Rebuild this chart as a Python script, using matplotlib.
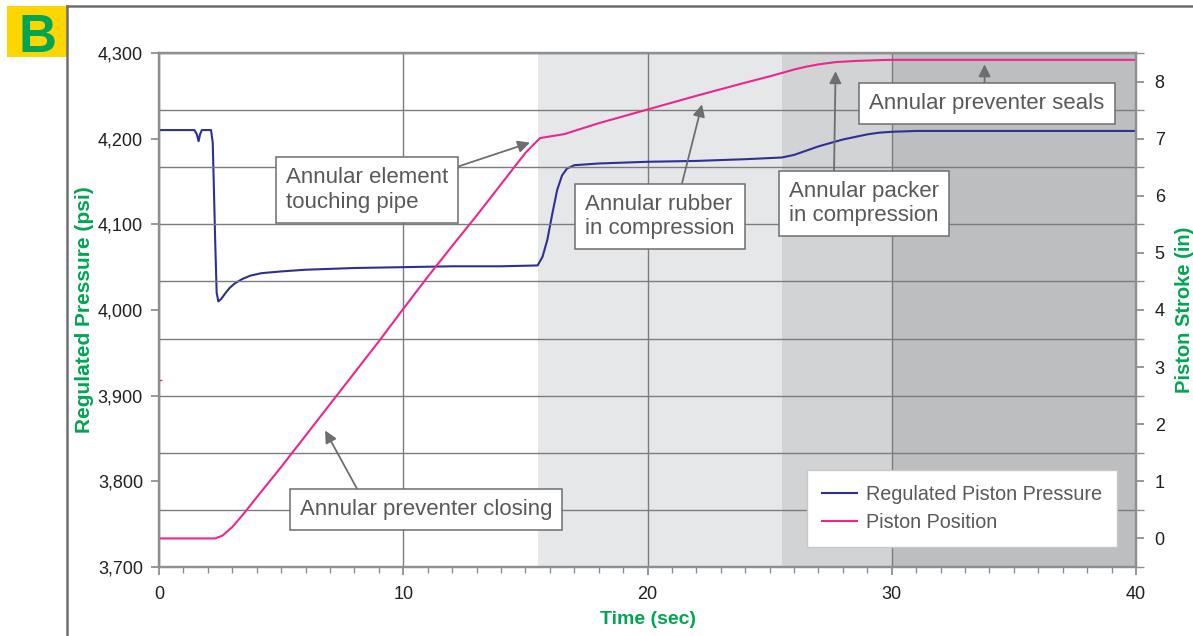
import matplotlib
matplotlib.use("Agg")
import matplotlib.pyplot as plt
from matplotlib.lines import Line2D
from matplotlib.patches import Rectangle
import numpy as np

plt.rcParams['font.family'] = ['Liberation Sans', 'DejaVu Sans']

# ---- data -----------------------------------------------------------------
# regulated piston pressure (psi) vs time (sec)
time_p = [0.0, 1.45, 1.55, 1.62, 1.68, 1.75, 2.13, 2.2, 2.3, 2.36, 2.43, 2.55,
          2.7, 2.9, 3.1, 3.4, 3.73, 4.2, 5.0, 6.0, 8.0, 10.0, 12.0, 14.0, 15.5,
          15.7, 15.9, 16.1, 16.3, 16.5, 16.7, 17.0, 18.0, 20.0, 22.0, 24.0, 25.5,
          26.0, 26.5, 27.0, 27.5, 28.0, 28.5, 29.0, 29.5, 30.0, 31.0, 33.0, 40.0]
pressure = [4210, 4210, 4205, 4197, 4205, 4210, 4210, 4195, 4080, 4020, 4010, 4013,
            4019, 4026, 4031, 4036, 4040, 4043, 4045, 4047, 4049, 4050, 4051, 4051,
            4052, 4062, 4082, 4112, 4140, 4157, 4165, 4169, 4171, 4173, 4174, 4176,
            4178, 4181, 4186, 4191, 4195, 4199, 4202, 4205, 4207, 4208, 4209, 4209,
            4209]

# piston position / stroke (in) vs time (sec)
time_s = [0.0, 2.3, 2.6, 3.0, 3.5, 4.0, 5.0, 6.0, 7.0, 8.0, 9.0, 10.0, 11.0,
          12.0, 13.0, 14.0, 15.0, 15.6, 16.6, 18.0, 20.0, 22.0, 24.0, 25.0,
          25.5, 26.0, 26.5, 27.0, 27.7, 28.5, 29.5, 30.0, 40.0]
stroke = [0.0, 0.0, 0.05, 0.2, 0.45, 0.72, 1.25, 1.8, 2.35, 2.9, 3.45, 4.02, 4.58,
          5.12, 5.65, 6.2, 6.75, 7.01, 7.08, 7.27, 7.51, 7.75, 7.98, 8.09,
          8.15, 8.21, 8.26, 8.3, 8.34, 8.36, 8.375, 8.38, 8.38]

# stray sample at t=0
glitch_t = [0.0]
glitch_s = [2.77]

# closing phases (sec) and their shading
phase_edges = [15.5, 25.5, 30.0, 40.0]
phase_colors = ['#e6e7e8', '#d1d3d4', '#bcbec0']

p_ticks = [3700, 3800, 3900, 4000, 4100, 4200, 4300]
s_ticks = [0, 1, 2, 3, 4, 5, 6, 7, 8]
t_ticks = [0, 10, 20, 30, 40]

# ---- figure ---------------------------------------------------------------
fig = plt.figure(figsize=(11.93, 6.36), dpi=100)
ax = fig.add_axes([0.1333, 0.1085, 0.8189, 0.8082])
ax2 = ax.twinx()

axis_grey = '#8d9093'
grid_grey = '#7a7c7f'
text_grey = '#58595b'
green = '#00a651'

for i in range(len(phase_colors)):
    ax.axvspan(phase_edges[i], phase_edges[i + 1], color=phase_colors[i],
               lw=0, zorder=0)

ax.set_xlim(0, 40)
ax.set_ylim(3700, 4300)
ax2.set_ylim(-0.5, 8.5)

# grid every half inch of stroke (lines up with the psi ticks)
ax2.set_yticks(np.arange(-0.5, 8.51, 0.5), minor=True)
ax2.grid(True, which='minor', axis='y', color=grid_grey, lw=1.0, zorder=0.5)
ax.set_axisbelow(True)
ax.grid(True, which='major', axis='x', color=grid_grey, lw=1.0)

ax.plot(time_p, pressure, color='#2e3192', lw=1.5,
        label='Regulated Piston Pressure', zorder=2)
ax2.plot(time_s, stroke, color='#ec268f', lw=1.5, label='Piston Position',
         zorder=2)
ax2.plot(glitch_t, glitch_s, color='#ec268f', marker='_', ms=4, lw=0)

ax.set_xticks(t_ticks)
ax.set_xticks(np.arange(0, 41, 1), minor=True)
ax.set_yticks(p_ticks)
ax.set_yticklabels([f'{v:,}' for v in p_ticks])
ax2.set_yticks(s_ticks)

ax.tick_params(axis='both', which='major', labelsize=13, color=axis_grey,
               length=5.5, width=1.3, labelcolor='#231f20', pad=6)
ax.tick_params(axis='x', which='major', pad=8)
ax.tick_params(axis='x', which='minor', length=4, width=1.0, color=axis_grey)
ax2.tick_params(axis='y', which='major', labelsize=13, color=axis_grey,
                length=5.5, width=1.3, labelcolor='#231f20', pad=8)
ax2.tick_params(axis='y', which='minor', length=5.5, width=1.0,
                color=axis_grey)

for a in (ax, ax2):
    for s in a.spines.values():
        s.set_color(axis_grey)
        s.set_linewidth(1.6)

ax.set_xlabel('Time (sec)', fontsize=14, fontweight='bold', color=green,
              labelpad=6)
ax.set_ylabel('Regulated Pressure (psi)', fontsize=15, fontweight='bold',
              color=green, labelpad=3)
ax2.set_ylabel('Piston Stroke (in)', fontsize=14.5, fontweight='bold',
               color=green, labelpad=7)

# ---- callouts -------------------------------------------------------------
box = dict(boxstyle='square,pad=0.45', fc='white', ec='#6d6e70', lw=1.1)
notes = [
    ('Annular element\ntouching pipe', (15.19, 6.93), (8.53, 6.10), (1.0, 0.95)),
    ('Annular preventer closing', (6.8, 1.89), (10.93, 0.50), (0.25, 1.0)),
    ('Annular rubber\nin compression', (22.23, 7.6), (20.51, 5.64), (0.63, 1.0)),
    ('Annular packer\nin compression', (27.7, 8.18), (28.86, 5.86), (0.30, 1.0)),
    ('Annular preventer seals', (33.8, 8.30), (33.9, 7.61), (0.49, 1.0)),
]
for txt, tip, pos, rel in notes:
    ax2.annotate(txt, xy=tip, xytext=pos, fontsize=16, color=text_grey,
                 ha='center', va='center', multialignment='left', bbox=box,
                 zorder=5,
                 arrowprops=dict(arrowstyle='-|>', color='#6d6e70', lw=1.3,
                                 mutation_scale=18, relpos=rel,
                                 shrinkA=0, shrinkB=0))

h1, l1 = ax.get_legend_handles_labels()
h2, l2 = ax2.get_legend_handles_labels()
leg = ax2.legend(h1 + h2, l1 + l2, loc='lower right',
                 bbox_to_anchor=(0.9806, 0.039), borderaxespad=0,
                 fontsize=14.2, frameon=True, fancybox=False,
                 edgecolor='#c8c8c8', framealpha=1, handlelength=1.8,
                 handletextpad=0.45, borderpad=0.75, labelspacing=0.45)
leg.get_frame().set_linewidth(1.0)
for t in leg.get_texts():
    t.set_color(text_grey)
leg.set_zorder(6)

# ---- panel frame and "B" badge --------------------------------------------
fig.add_artist(Line2D([67 / 1193, 1.0], [1 - 6 / 636, 1 - 6 / 636],
                      transform=fig.transFigure, color='#6d6e70', lw=1.8))
fig.add_artist(Line2D([67 / 1193, 67 / 1193], [0.0, 1 - 6 / 636],
                      transform=fig.transFigure, color='#6d6e70', lw=1.8))
fig.add_artist(Rectangle((7 / 1193, 1 - 57 / 636), 60 / 1193, 51 / 636,
                         transform=fig.transFigure, color='#fdd600', lw=0))
fig.text(37.5 / 1193, 1 - 52 / 636, 'B', fontsize=38, fontweight='bold',
         color=green, ha='center', va='baseline')

fig.savefig('out.png', dpi=100)
